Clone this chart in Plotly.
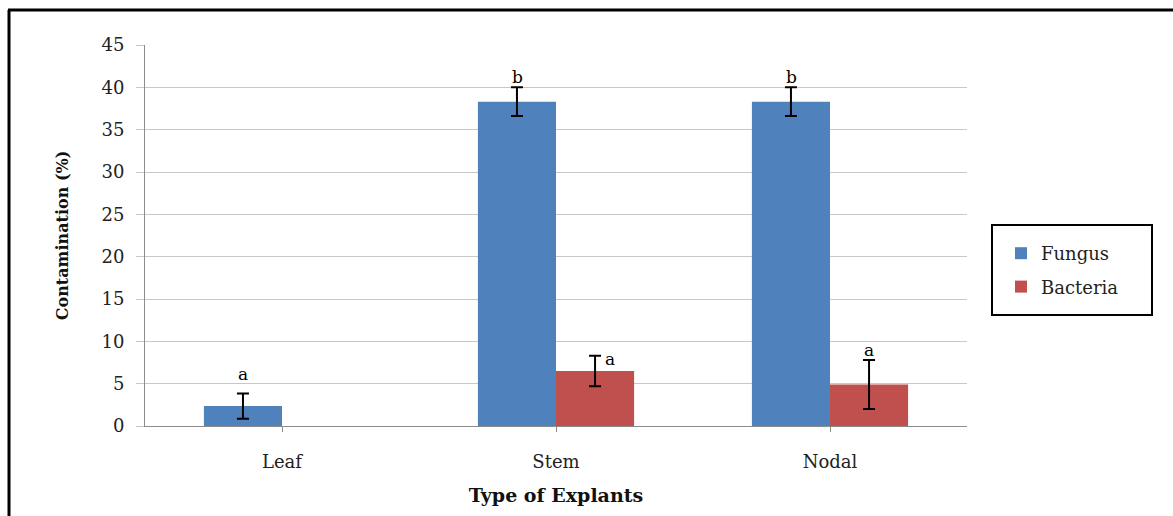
import plotly.graph_objects as go

categories = ["Leaf", "Stem", "Nodal"]
fungus = [2.35, 38.3, 38.3]
fungus_err = [1.5, 1.7, 1.7]
bacteria = [None, 6.5, 4.9]
bacteria_err = [None, 1.8, 2.9]
fungus_letters = ["a", "b", "b"]
bacteria_letters = [None, "a", "a"]

W, H = 1173, 516
L, R, T, B = 145, 206, 45, 90
FONT = "DejaVu Serif, Liberation Serif, serif"

fig = go.Figure()
fig.add_trace(go.Bar(
    name="Fungus", x=categories, y=fungus, legendgroup="f",
    marker=dict(color="#4F81BD", line=dict(width=0)),
    error_y=dict(type="data", array=fungus_err, color="black", thickness=2, width=6),
))
fig.add_trace(go.Bar(
    name="Bacteria", x=categories, y=bacteria, legendgroup="b",
    marker=dict(color="#C0504D", line=dict(width=0)),
    error_y=dict(type="data", array=bacteria_err, color="black", thickness=2, width=6),
))

# letter annotations
f_shift = [(0, 19), (0, 10), (0, 10)]
b_shift = [None, (15, -3), (0, 10)]
bar_off = 39
for i, c in enumerate(categories):
    if fungus_letters[i]:
        dx, dy = f_shift[i]
        fig.add_annotation(x=c, y=fungus[i] + fungus_err[i], text=fungus_letters[i],
                           showarrow=False, xshift=-bar_off + dx, yshift=dy,
                           yanchor="middle", font=dict(family=FONT, size=17, color="black"))
    if bacteria_letters[i]:
        dx, dy = b_shift[i]
        fig.add_annotation(x=c, y=bacteria[i] + bacteria_err[i], text=bacteria_letters[i],
                           showarrow=False, xshift=bar_off + dx, yshift=dy,
                           yanchor="middle", font=dict(family=FONT, size=17, color="black"))

pw, ph = W - L - R, H - T - B
def px(x):
    return (x - L) / pw
def py(y):
    return (H - B - y) / ph

# outer frame (top and left edges visible)
fig.add_shape(type="line", xref="paper", yref="paper", x0=px(8), x1=px(1175), y0=py(10), y1=py(10),
              line=dict(color="black", width=3))
fig.add_shape(type="line", xref="paper", yref="paper", x0=px(9), x1=px(9), y0=py(10), y1=py(520),
              line=dict(color="black", width=3))
# legend box
fig.add_shape(type="rect", xref="paper", yref="paper", x0=px(992), x1=px(1152), y0=py(225), y1=py(315),
              line=dict(color="black", width=2), fillcolor="rgba(0,0,0,0)")

fig.update_layout(
    width=W, height=H,
    margin=dict(l=L, r=R, t=T, b=B),
    paper_bgcolor="white", plot_bgcolor="white",
    barmode="group", bargap=0.43, bargroupgap=0,
    font=dict(family=FONT, size=16, color="#222"),
    showlegend=True,
    legend=dict(x=px(1001), y=py(235), xanchor="left", yanchor="top",
                borderwidth=0, bgcolor="rgba(0,0,0,0)",
                font=dict(family=FONT, size=18, color="#222"),
                itemwidth=30, traceorder="grouped", tracegroupgap=7),
    xaxis=dict(
        showline=True, linecolor="#8c8c8c", linewidth=1,
        ticks="outside", ticklen=5, tickcolor="#8c8c8c",
        ticklabelstandoff=14,
        tickfont=dict(family=FONT, size=18, color="#222"),
        title=dict(text="<b>Type of Explants</b>", font=dict(family=FONT, size=19, color="#111"), standoff=18),
    ),
    yaxis=dict(
        range=[0, 45], dtick=5,
        showline=True, linecolor="#8c8c8c", linewidth=1,
        showgrid=True, gridcolor="#c8c8c8", gridwidth=1,
        ticks="outside", ticklen=8, tickcolor="#c8c8c8",
        ticklabelstandoff=8,
        tickfont=dict(family=FONT, size=18, color="#222"),
        title=dict(text="<b>Contamination (%)</b>", font=dict(family=FONT, size=16, color="#111"), standoff=28),
        zeroline=False,
    ),
)

fig.write_html("out.html", config={"displayModeBar": False},
               post_script="document.body.style.margin='0';document.body.style.overflow='hidden';")
